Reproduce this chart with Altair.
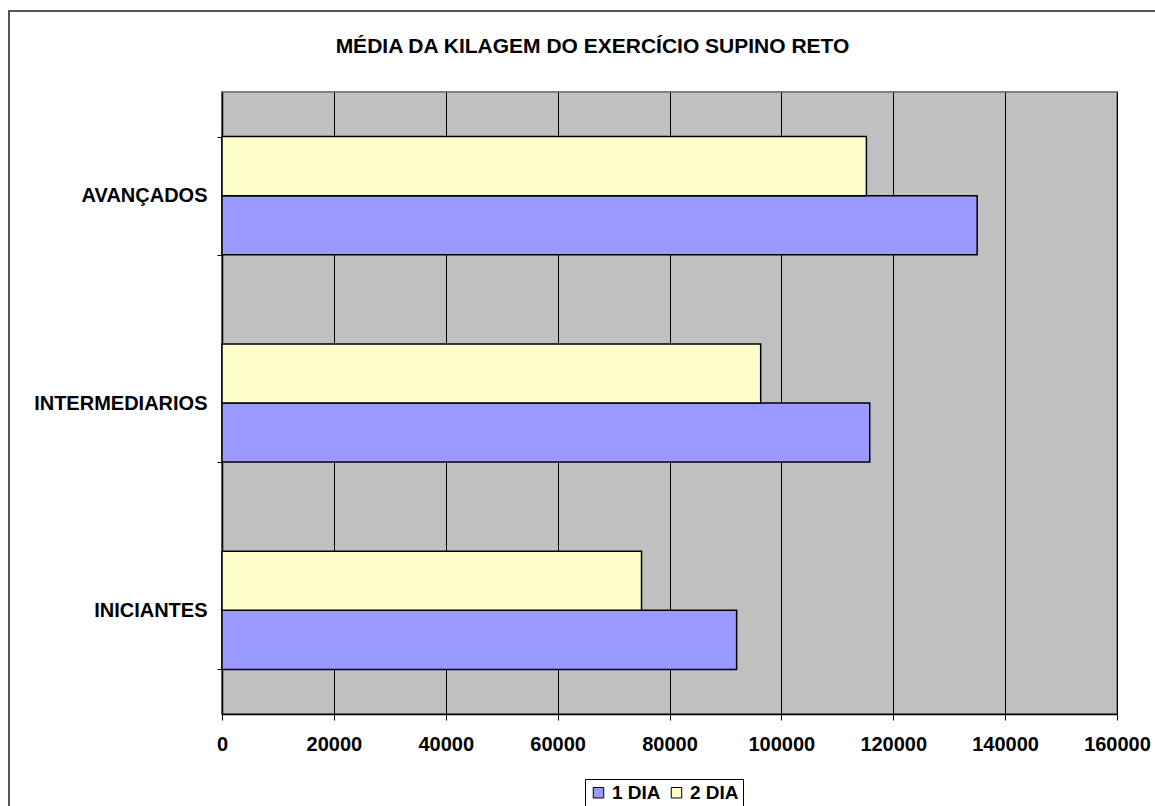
import altair as alt
import pandas as pd

categories = ["AVANÇADOS", "INTERMEDIARIOS", "INICIANTES"]
series = ["1 DIA", "2 DIA"]
dia1 = [135000, 115800, 92000]
dia2 = [115200, 96300, 75000]
x_ticks = [0, 20000, 40000, 60000, 80000, 100000, 120000, 140000, 160000]

rows = []
for c, a, b in zip(categories, dia1, dia2):
    rows.append({"grupo": c, "serie": "1 DIA", "valor": a})
    rows.append({"grupo": c, "serie": "2 DIA", "valor": b})
df = pd.DataFrame(rows)

FONT = "Liberation Sans"

bars = alt.Chart(df).mark_bar(stroke="black", strokeWidth=1.5).encode(
    x=alt.X(
        "valor:Q",
        scale=alt.Scale(domain=[0, 160000], nice=False, zero=True),
        axis=alt.Axis(
            values=x_ticks, format="d", title=None, grid=True, gridColor="black",
            gridWidth=1, domainColor="black", domainWidth=1.5, tickColor="black",
            tickSize=6, labelFont=FONT, labelFontSize=20, labelFontWeight="bold",
            labelColor="black", labelPadding=14, labelFlush=False,
        ),
    ),
    y=alt.Y(
        "grupo:N",
        sort=categories,
        scale=alt.Scale(paddingInner=0.43, paddingOuter=0.215),
        axis=alt.Axis(
            title=None, tickBand="extent", tickSize=5, tickColor="black",
            domainColor="black", domainWidth=1.5, labelFont=FONT, labelFontSize=20,
            labelFontWeight="bold", labelColor="black", labelPadding=10, grid=False,
        ),
    ),
    yOffset=alt.YOffset("serie:N", sort=["2 DIA", "1 DIA"]),
    color=alt.Color(
        "serie:N",
        scale=alt.Scale(domain=series, range=["#9999FF", "#FFFFCC"]),
        legend=alt.Legend(
            title=None, orient="none", direction="horizontal", legendX=363, legendY=687,
            symbolType="square", symbolSize=110, symbolStrokeColor="black",
            symbolStrokeWidth=1, labelFont=FONT, labelFontSize=19, labelFontWeight="bold",
            labelColor="black", strokeColor="black", fillColor="white", padding=4,
            columnPadding=6, labelOffset=4,
        ),
    ),
)

frame = alt.Chart(pd.DataFrame({"a": [0]})).mark_rect(
    fill=None, stroke="#555555", strokeWidth=2, clip=False
).encode(
    x=alt.value(-213), x2=alt.value(960), y=alt.value(-81), y2=alt.value(760)
)

chart = alt.layer(frame, bars).properties(
    width=895,
    height=622,
    title=alt.TitleParams(
        "MÉDIA DA KILAGEM DO EXERCÍCIO SUPINO RETO",
        font=FONT, fontSize=21, fontWeight="bold", color="black",
        anchor="middle", dx=-77, offset=-64, baseline="alphabetic",
    ),
    padding={"left": 222, "top": 92, "right": 38, "bottom": 92},
    autosize=alt.AutoSizeParams(type="none"),
    background="white",
).configure_view(
    fill="#C0C0C0", stroke="#808080", strokeWidth=2
)

chart.save("out.html", embed_options={"renderer": "svg", "actions": False})
